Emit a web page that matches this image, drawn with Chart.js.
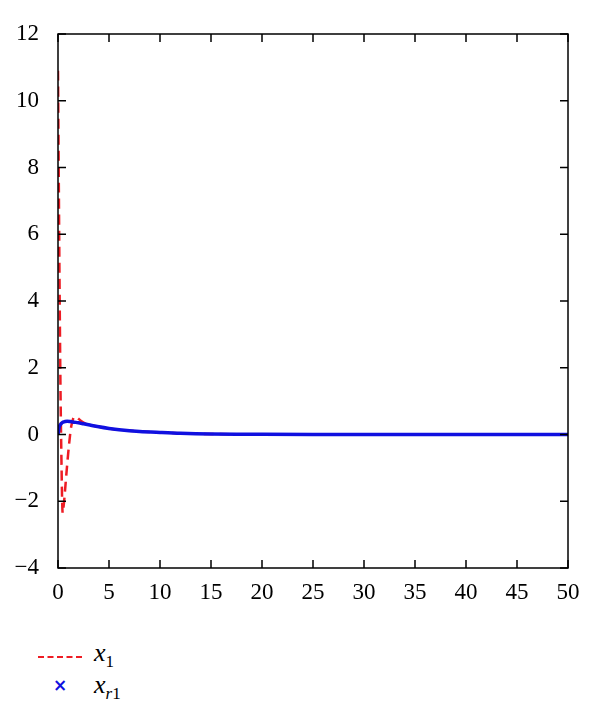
<!DOCTYPE html>
<html>
<head>
<meta charset="utf-8">
<script src="https://cdn.jsdelivr.net/npm/chart.js@4.4.1/dist/chart.umd.min.js"></script>
<style>
  body { margin: 0; background: #fff; }
  #wrap { position: relative; width: 600px; height: 724px; }
  #legend { position: absolute; left: 30px; top: 638px; font-family: "Liberation Serif", "DejaVu Serif", serif; font-size: 26px; }
  .row { position: relative; height: 32px; }
  .dash { position: absolute; left: 8px; top: 18px; width: 44px; border-top: 2.5px dashed #ee1c24; }
  .cross { position: absolute; left: 23px; top: 5px; color: #1010e0; font-size: 17px; font-weight: bold; font-family: "DejaVu Sans", sans-serif; }
  .lbl { position: absolute; left: 64px; top: 0; font-style: italic; }
  sub { font-style: normal; font-size: 17px; }
  sub i { font-style: italic; }
</style>
</head>
<body>
<div id="wrap">
  <canvas id="c" width="600" height="610"></canvas>
  <div id="legend">
    <div class="row"><span class="dash"></span><span class="lbl">x<sub>1</sub></span></div>
    <div class="row"><span class="cross">×</span><span class="lbl">x<sub><i>r</i>1</sub></span></div>
  </div>
</div>
<script>
// valores
const tX1 = [0, 0.08, 0.16, 0.25, 0.35, 0.45, 0.6, 0.75, 0.9, 1.1, 1.3, 1.55, 1.8, 2.2, 2.6, 3, 4, 5, 6, 8, 10, 12, 15, 20, 30, 40, 50];
const x1 = [10.9, 7.5, 4.2, 1.2, -1.0, -2.35, -2.0, -1.45, -0.9, -0.25, 0.25, 0.52, 0.52, 0.42, 0.34, 0.29, 0.23, 0.18, 0.14, 0.09, 0.06, 0.035, 0.015, 0.005, 0, 0, 0];

const tXr1 = [0, 0.1, 0.2, 0.35, 0.5, 0.7, 0.9, 1.2, 1.6, 2, 2.5, 3, 4, 5, 6, 8, 10, 12, 15, 20, 30, 40, 50];
const xr1 = [0, 0.2, 0.28, 0.34, 0.37, 0.39, 0.4, 0.39, 0.37, 0.35, 0.32, 0.29, 0.23, 0.18, 0.14, 0.09, 0.06, 0.035, 0.015, 0.005, 0, 0, 0];

const xTicks = [0, 5, 10, 15, 20, 25, 30, 35, 40, 45, 50];
const yTicks = [-4, -2, 0, 2, 4, 6, 8, 10, 12];

const fontTicks = { family: "'Liberation Serif', 'DejaVu Serif', serif", size: 23 };

// dibuja el marco y las marcas hacia dentro
const frameTicks = {
  id: 'frameTicks',
  afterDraw(chart) {
    const { ctx, chartArea: a, scales } = chart;
    ctx.save();
    ctx.strokeStyle = '#000';
    ctx.lineWidth = 1.5;
    ctx.strokeRect(a.left, a.top, a.right - a.left, a.bottom - a.top);
    ctx.beginPath();
    xTicks.forEach(v => {
      const px = scales.x.getPixelForValue(v);
      ctx.moveTo(px, a.bottom); ctx.lineTo(px, a.bottom - 8);
      ctx.moveTo(px, a.top); ctx.lineTo(px, a.top + 8);
    });
    yTicks.forEach(v => {
      const py = scales.y.getPixelForValue(v);
      ctx.moveTo(a.left, py); ctx.lineTo(a.left + 8, py);
      ctx.moveTo(a.right, py); ctx.lineTo(a.right - 8, py);
    });
    ctx.stroke();
    ctx.restore();
  }
};

new Chart(document.getElementById('c'), {
  type: 'line',
  data: {
    datasets: [
      {
        label: 'xr1',
        data: tXr1.map((t, i) => ({ x: t, y: xr1[i] })),
        borderColor: '#1010e0',
        borderWidth: 3.5,
        pointRadius: 0,
        tension: 0.3,
        fill: false
      },
      {
        label: 'x1',
        data: tX1.map((t, i) => ({ x: t, y: x1[i] })),
        borderColor: '#ee1c24',
        borderWidth: 2.5,
        borderDash: [10, 6],
        pointRadius: 0,
        tension: 0.25,
        fill: false
      }
    ]
  },
  options: {
    responsive: false,
    animation: false,
    layout: { padding: { top: 34, right: 32, left: 0, bottom: 0 } },
    plugins: { legend: { display: false }, tooltip: { enabled: false } },
    scales: {
      x: {
        type: 'linear',
        min: 0, max: 50,
        afterBuildTicks: s => { s.ticks = xTicks.map(v => ({ value: v })); },
        afterFit: s => { s.height = 42; },
        grid: { display: false },
        border: { display: false },
        ticks: { color: '#000', font: fontTicks, padding: 3, maxRotation: 0 }
      },
      y: {
        type: 'linear',
        min: -4, max: 12,
        afterBuildTicks: s => { s.ticks = yTicks.map(v => ({ value: v })); },
        afterFit: s => { s.width = 58; },
        grid: { display: false },
        border: { display: false },
        ticks: { color: '#000', font: fontTicks, padding: 11, callback: v => String(v).replace('-', '\u2212') }
      }
    }
  },
  plugins: [frameTicks]
});
</script>
</body>
</html>
